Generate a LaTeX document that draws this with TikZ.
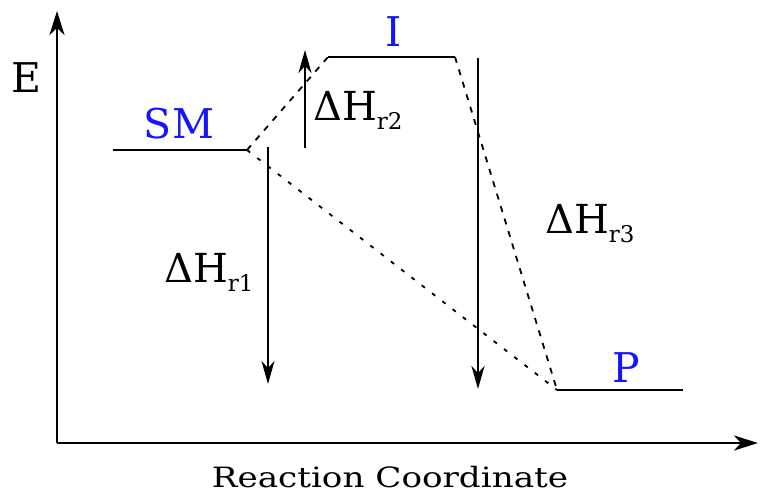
\documentclass[tikz,border=0pt]{standalone}
\usepackage{fontspec}
\setmainfont{DejaVu Serif}
\newfontfamily\widefont[FakeStretch=1.22]{DejaVu Serif}
\usetikzlibrary{arrows.meta}
\definecolor{lblue}{RGB}{20,20,255}
\newcommand{\dH}[1]{\fontsize{40}{40}\selectfont\char"0394H\raisebox{-9pt}{\fontsize{23}{23}\selectfont r#1}}
\begin{document}
\begin{tikzpicture}[x=1pt,y=-1pt,
  axisline/.style={line width=2.8pt,-{Stealth[length=24pt,width=15pt,inset=7pt]}},
  levelline/.style={line width=2.4pt},
  harrow/.style={line width=2.4pt,-{Stealth[length=23pt,width=13pt,inset=7pt]}},
  dashline/.style={line width=1.8pt,dash pattern=on 6pt off 7pt},
  dotline/.style={line width=1.8pt,dash pattern=on 4pt off 9pt},
  biglbl/.style={font=\fontsize{41}{41}\selectfont,inner sep=0pt},
  blulbl/.style={biglbl,text=lblue}]
\useasboundingbox (0,0) rectangle (763,499);
% axes
\coordinate (O) at (57,443);
\coordinate (Ytip) at (57,11);
\coordinate (Xtip) at (758,443);
\draw[axisline] (O) -- (Ytip);
\draw[axisline] (O) -- (Xtip);
\node[biglbl,anchor=base] (E) at (26,92) {E};
\node[inner sep=0pt,anchor=base,font=\widefont\fontsize{28}{28}\selectfont] (xl) at (390,487) {Reaction Coordinate};
% levels
\coordinate (SMa) at (113,150); \coordinate (SMb) at (247,150);
\coordinate (Ia) at (328,57); \coordinate (Ib) at (455,57);
\coordinate (Pa) at (557,390); \coordinate (Pb) at (683,390);
\draw[levelline] (SMa) -- (SMb);
\draw[levelline] (Ia) -- (Ib);
\draw[levelline] (Pa) -- (Pb);
\node[blulbl,anchor=base] (SM) at (179,138) {SM};
\node[blulbl,anchor=base] (I) at (394,46) {I};
\node[blulbl,anchor=base] (P) at (626,382) {P};
% connectors
\draw[dashline] (SMb) -- (Ia);
\draw[dashline] (Ib) -- (Pa);
\draw[dotline] (SMb) -- (Pa);
% enthalpy arrows
\coordinate (r2a) at (305,148); \coordinate (r2b) at (305,50);
\coordinate (r1a) at (268,147); \coordinate (r1b) at (268,384);
\coordinate (r3a) at (478,58); \coordinate (r3b) at (478,389);
\draw[harrow] (r2a) -- (r2b);
\draw[harrow] (r1a) -- (r1b);
\draw[harrow] (r3a) -- (r3b);
\node[inner sep=0pt,anchor=base west] (h1) at (164,282) {\dH{1}};
\node[inner sep=0pt,anchor=base west] (h2) at (313,120) {\dH{2}};
\node[inner sep=0pt,anchor=base west] (h3) at (545,233) {\dH{3}};
\end{tikzpicture}
\end{document}
